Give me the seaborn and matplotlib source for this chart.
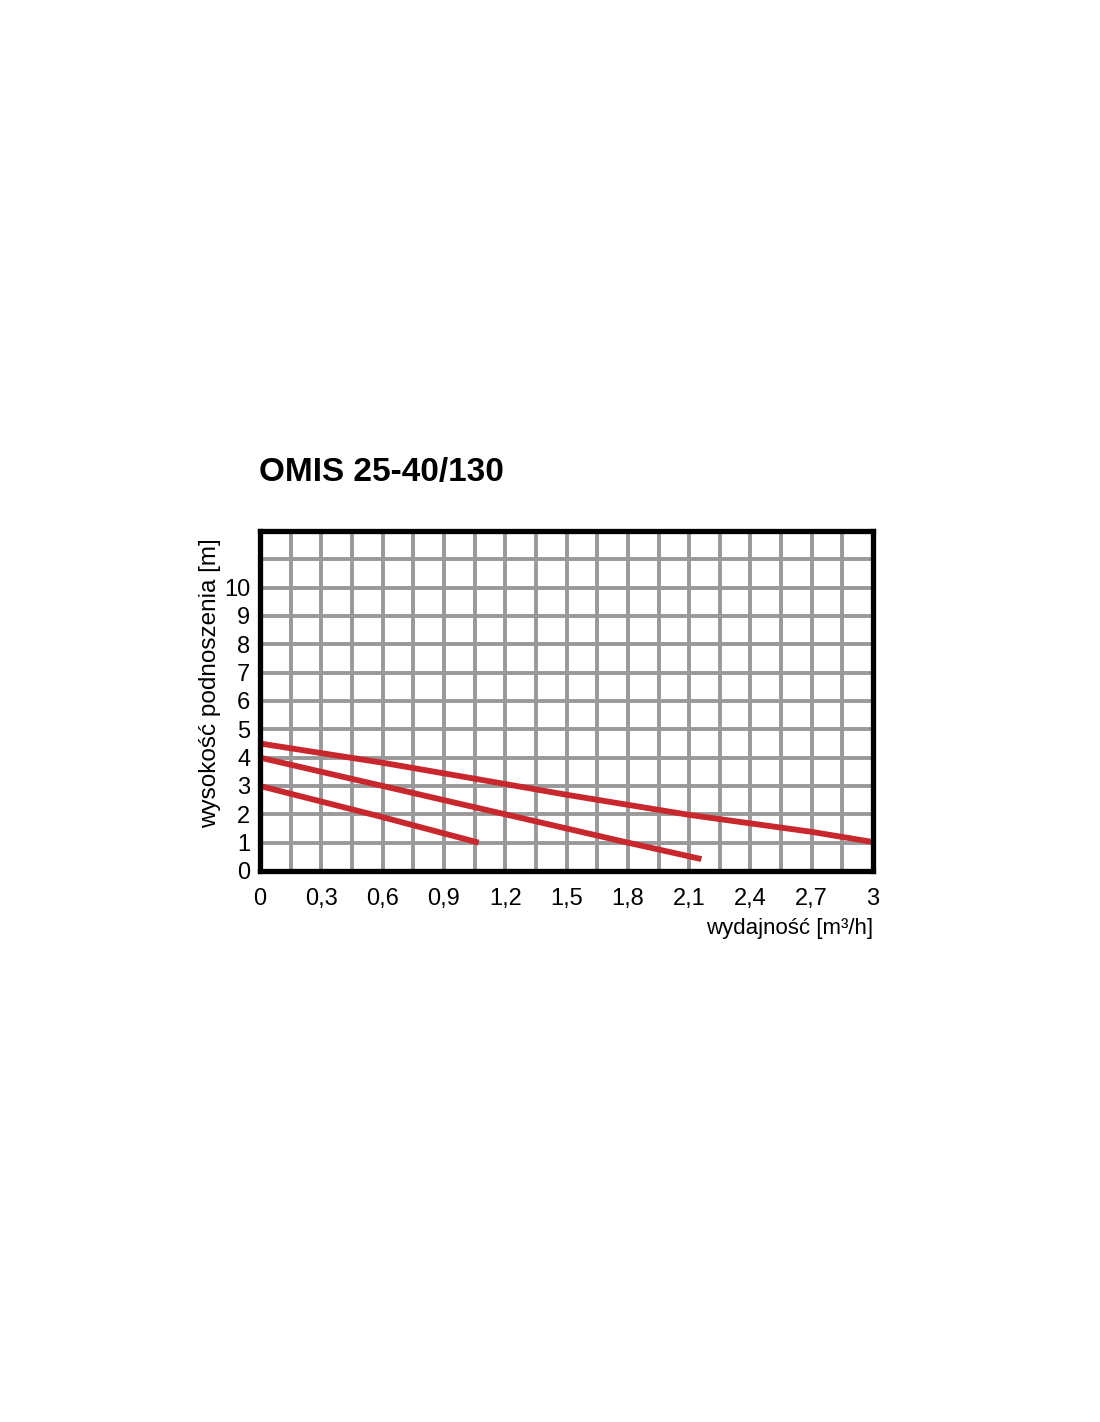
import numpy as np
import pandas as pd
import matplotlib
matplotlib.use("Agg")
import matplotlib.pyplot as plt
import seaborn as sns

# data
curve_low_x = [0.0, 0.6, 1.07]
curve_low_y = [3.0, 1.9, 1.0]
curve_mid_x = [0.0, 0.6, 1.08, 1.8, 2.16]
curve_mid_y = [4.0, 3.0, 2.2, 1.0, 0.42]
curve_top_x = [0.0, 0.6, 1.08, 1.5, 2.1, 2.7, 3.0]
curve_top_y = [4.5, 3.82, 3.22, 2.69, 1.98, 1.38, 1.02]

x_ticks = [0, 0.3, 0.6, 0.9, 1.2, 1.5, 1.8, 2.1, 2.4, 2.7, 3.0]
x_tick_labels = ["0", "0,3", "0,6", "0,9", "1,2", "1,5", "1,8", "2,1", "2,4", "2,7", "3"]
y_ticks = list(range(0, 12))
y_tick_labels = [str(v) for v in range(0, 11)] + [""]

title = "OMIS 25-40/130"
xlabel = "wydajność [m³/h]"
ylabel = "wysokość podnoszenia [m]"

df = pd.concat([
    pd.DataFrame({"x": curve_low_x, "y": curve_low_y, "c": "low"}),
    pd.DataFrame({"x": curve_mid_x, "y": curve_mid_y, "c": "mid"}),
    pd.DataFrame({"x": curve_top_x, "y": curve_top_y, "c": "top"}),
])

sns.set_style("white")
plt.rcParams["font.family"] = ["Liberation Sans", "DejaVu Sans"]
plt.rcParams["text.color"] = "black"
plt.rcParams["axes.labelcolor"] = "black"
plt.rcParams["xtick.labelcolor"] = "black"
plt.rcParams["ytick.labelcolor"] = "black"

fig = plt.figure(figsize=(11, 14.22), dpi=100)
ax = fig.add_axes([0.2364, 0.3875, 0.5573, 0.2391])

red = "#c8282d"
sns.lineplot(data=df, x="x", y="y", hue="c", palette=[red, red, red],
             linewidth=4.2, legend=False, ax=ax, sort=False, estimator=None,
             solid_capstyle="butt", zorder=3)

ax.set_xlim(0, 3)
ax.set_ylim(0, 12)
ax.set_xticks(x_ticks)
ax.set_xticklabels(x_tick_labels)
ax.set_xticks(np.arange(0, 3.001, 0.15), minor=True)
ax.set_yticks(y_ticks)
ax.set_yticklabels(y_tick_labels)

ax.set_axisbelow(True)
ax.grid(True, which="both", color="#999999", linewidth=2.8)
ax.tick_params(axis="both", which="major", labelsize=17, length=5, width=2,
               color="#888888", pad=7, labelcolor="black")
ax.tick_params(axis="y", pad=2)
ax.tick_params(axis="both", which="minor", length=0)

for s in ax.spines.values():
    s.set_visible(True)
    s.set_color("black")
    s.set_linewidth(3.8)
    s.set_zorder(5)

ax.set_xlabel(xlabel, fontsize=16, loc="right", labelpad=6, color="black")
ax.set_ylabel(ylabel, fontsize=17.5, color="black")
ax.yaxis.set_label_coords(-0.064, 0.553)

fig.text(0.2355, 0.662, title, fontsize=24, fontweight="bold", ha="left",
         va="baseline", color="black")

fig.savefig("out.png", dpi=100, facecolor="white")
